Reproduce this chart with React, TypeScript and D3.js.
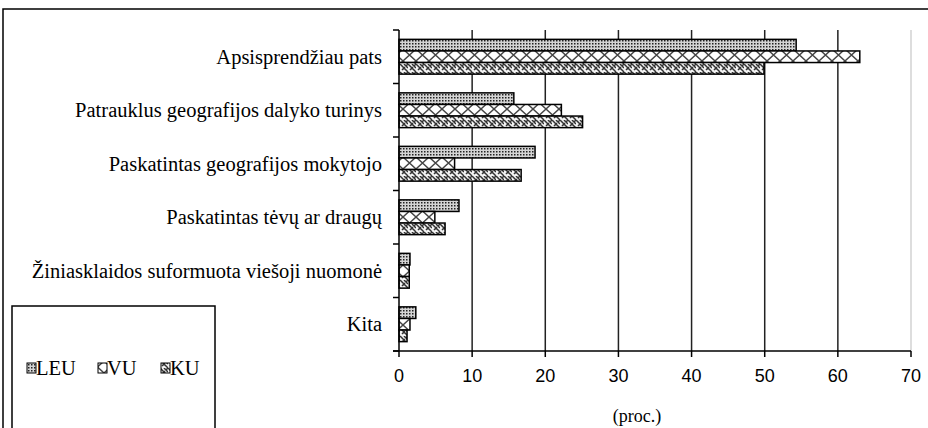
import React, { useEffect, useRef } from 'react';
import * as d3 from 'd3';

const categories = [
  'Apsisprendžiau pats',
  'Patrauklus geografijos dalyko turinys',
  'Paskatintas geografijos mokytojo',
  'Paskatintas tėvų ar draugų',
  'Žiniasklaidos suformuota viešoji nuomonė',
  'Kita',
];
const seriesNames = ['LEU', 'VU', 'KU'];
const leu = [54.3, 15.7, 18.6, 8.2, 1.5, 2.3];
const vu = [63.0, 22.2, 7.6, 4.9, 1.4, 1.5];
const ku = [49.9, 25.1, 16.7, 6.3, 1.4, 1.1];
const xTicks = [0, 10, 20, 30, 40, 50, 60, 70];

const App = () => {
  const ref = useRef<SVGSVGElement>(null);

  useEffect(() => {
    const svg = d3.select(ref.current);
    svg.selectAll('*').remove();

    const width = 928;
    const height = 428;
    const left = 399;
    const right = 911;
    const top = 30;
    const bottom = 351;

    const serif = '"Liberation Serif", "Times New Roman", serif';
    const sans = '"Liberation Sans", Arial, sans-serif';

    // fill patterns, one per series
    const defs = svg.append('defs');

    const pLeu = defs
      .append('pattern')
      .attr('id', 'p-leu')
      .attr('patternUnits', 'userSpaceOnUse')
      .attr('width', 3)
      .attr('height', 3);
    pLeu.append('rect').attr('width', 3).attr('height', 3).attr('fill', '#d4d4d4');
    pLeu.append('rect').attr('x', 1).attr('y', 1).attr('width', 1.5).attr('height', 1.5).attr('fill', '#222');

    const pVu = defs
      .append('pattern')
      .attr('id', 'p-vu')
      .attr('patternUnits', 'userSpaceOnUse')
      .attr('width', 13)
      .attr('height', 12)
      .attr('y', 1);
    pVu.append('rect').attr('width', 13).attr('height', 12).attr('fill', '#fff');
    pVu.append('path').attr('d', 'M0 0 L13 12 M13 0 L0 12').attr('stroke', '#444').attr('stroke-width', 1.4);

    const pKu = defs
      .append('pattern')
      .attr('id', 'p-ku')
      .attr('patternUnits', 'userSpaceOnUse')
      .attr('width', 8)
      .attr('height', 8);
    pKu.append('rect').attr('width', 8).attr('height', 8).attr('fill', '#f2f2f2');
    pKu
      .append('path')
      .attr('d', 'M0 0 L8 8 M-4 4 L0 8 M4 0 L8 4 M2 6 L5 3 M6 2 L8 0')
      .attr('stroke', '#333')
      .attr('stroke-width', 1.5);

    const fills = ['url(#p-leu)', 'url(#p-vu)', 'url(#p-ku)'];

    // outer frame
    svg
      .append('path')
      .attr('d', `M3 ${height + 5} L3 9 L${width + 5} 9`)
      .attr('fill', 'none')
      .attr('stroke', '#000')
      .attr('stroke-width', 1.5);

    const x = d3.scaleLinear().domain([0, 70]).range([left, right]);
    const y = d3.scaleBand().domain(categories).range([top, bottom]).paddingInner(0.35).paddingOuter(0.175);
    const ySeries = d3.scaleBand().domain(seriesNames).range([0, y.bandwidth()]);
    const yOuter = d3.scaleBand().domain(categories).range([top, bottom]);

    // gridlines
    svg
      .append('g')
      .selectAll('line')
      .data(xTicks.slice(1))
      .join('line')
      .attr('x1', (d) => x(d))
      .attr('x2', (d) => x(d))
      .attr('y1', top)
      .attr('y2', bottom)
      .attr('stroke', (d) => (d === 70 ? '#bbb' : '#222'))
      .attr('stroke-width', (d) => (d === 70 ? 1 : 1.5));

    // bars
    const values = [leu, vu, ku];
    const rows = categories.flatMap((c, i) => seriesNames.map((s, j) => ({ c, s, j, v: values[j][i] })));
    svg
      .append('g')
      .selectAll('rect')
      .data(rows)
      .join('rect')
      .attr('x', x(0))
      .attr('y', (d) => (y(d.c) as number) + (ySeries(d.s) as number))
      .attr('width', (d) => x(d.v) - x(0))
      .attr('height', ySeries.bandwidth())
      .attr('fill', (d) => fills[d.j])
      .attr('stroke', '#000')
      .attr('stroke-width', 1.5);

    // y axis
    const yAxis = svg.append('g');
    yAxis
      .append('line')
      .attr('x1', left)
      .attr('x2', left)
      .attr('y1', top)
      .attr('y2', bottom)
      .attr('stroke', '#000')
      .attr('stroke-width', 1.5);
    const bounds = categories.map((c) => yOuter(c) as number).concat([bottom]);
    yAxis
      .selectAll('line.tick')
      .data(bounds)
      .join('line')
      .attr('class', 'tick')
      .attr('x1', left - 6)
      .attr('x2', left)
      .attr('y1', (d) => d)
      .attr('y2', (d) => d)
      .attr('stroke', '#000')
      .attr('stroke-width', 1.5);
    yAxis
      .selectAll('text')
      .data(categories)
      .join('text')
      .attr('x', 382)
      .attr('y', (d) => (yOuter(d) as number) + yOuter.bandwidth() / 2)
      .attr('dy', '0.35em')
      .attr('text-anchor', 'end')
      .attr('font-family', serif)
      .attr('font-size', 20.5)
      .text((d) => d);

    // x axis
    const xAxis = svg.append('g');
    xAxis
      .append('line')
      .attr('x1', left - 6)
      .attr('x2', right)
      .attr('y1', bottom)
      .attr('y2', bottom)
      .attr('stroke', '#000')
      .attr('stroke-width', 1.5);
    xAxis
      .selectAll('line.tick')
      .data(xTicks)
      .join('line')
      .attr('class', 'tick')
      .attr('x1', (d) => x(d))
      .attr('x2', (d) => x(d))
      .attr('y1', bottom)
      .attr('y2', bottom + 6)
      .attr('stroke', '#000')
      .attr('stroke-width', 1.5);
    xAxis
      .selectAll('text')
      .data(xTicks)
      .join('text')
      .attr('x', (d) => x(d))
      .attr('y', 382)
      .attr('text-anchor', 'middle')
      .attr('font-family', sans)
      .attr('font-size', 18)
      .text((d) => d);

    svg
      .append('text')
      .attr('x', 637)
      .attr('y', 422)
      .attr('text-anchor', 'middle')
      .attr('font-family', serif)
      .attr('font-size', 18)
      .text('(proc.)');

    // legend
    const legend = svg.append('g');
    legend
      .append('rect')
      .attr('x', 12)
      .attr('y', 306)
      .attr('width', 203)
      .attr('height', 140)
      .attr('fill', '#fff')
      .attr('stroke', '#000')
      .attr('stroke-width', 1.5);
    const legendX = [27, 98, 161];
    seriesNames.forEach((s, i) => {
      legend
        .append('rect')
        .attr('x', legendX[i])
        .attr('y', 363)
        .attr('width', 9)
        .attr('height', 10)
        .attr('fill', fills[i])
        .attr('stroke', '#000')
        .attr('stroke-width', 1);
      legend
        .append('text')
        .attr('x', legendX[i] + 9)
        .attr('y', 375)
        .attr('font-family', serif)
        .attr('font-size', 20.5)
        .text(s);
    });
  }, []);

  return (
    <svg
      ref={ref}
      width={928}
      height={428}
      style={{ position: 'absolute', left: 0, top: 0, background: '#fff' }}
    />
  );
};

export default App;
